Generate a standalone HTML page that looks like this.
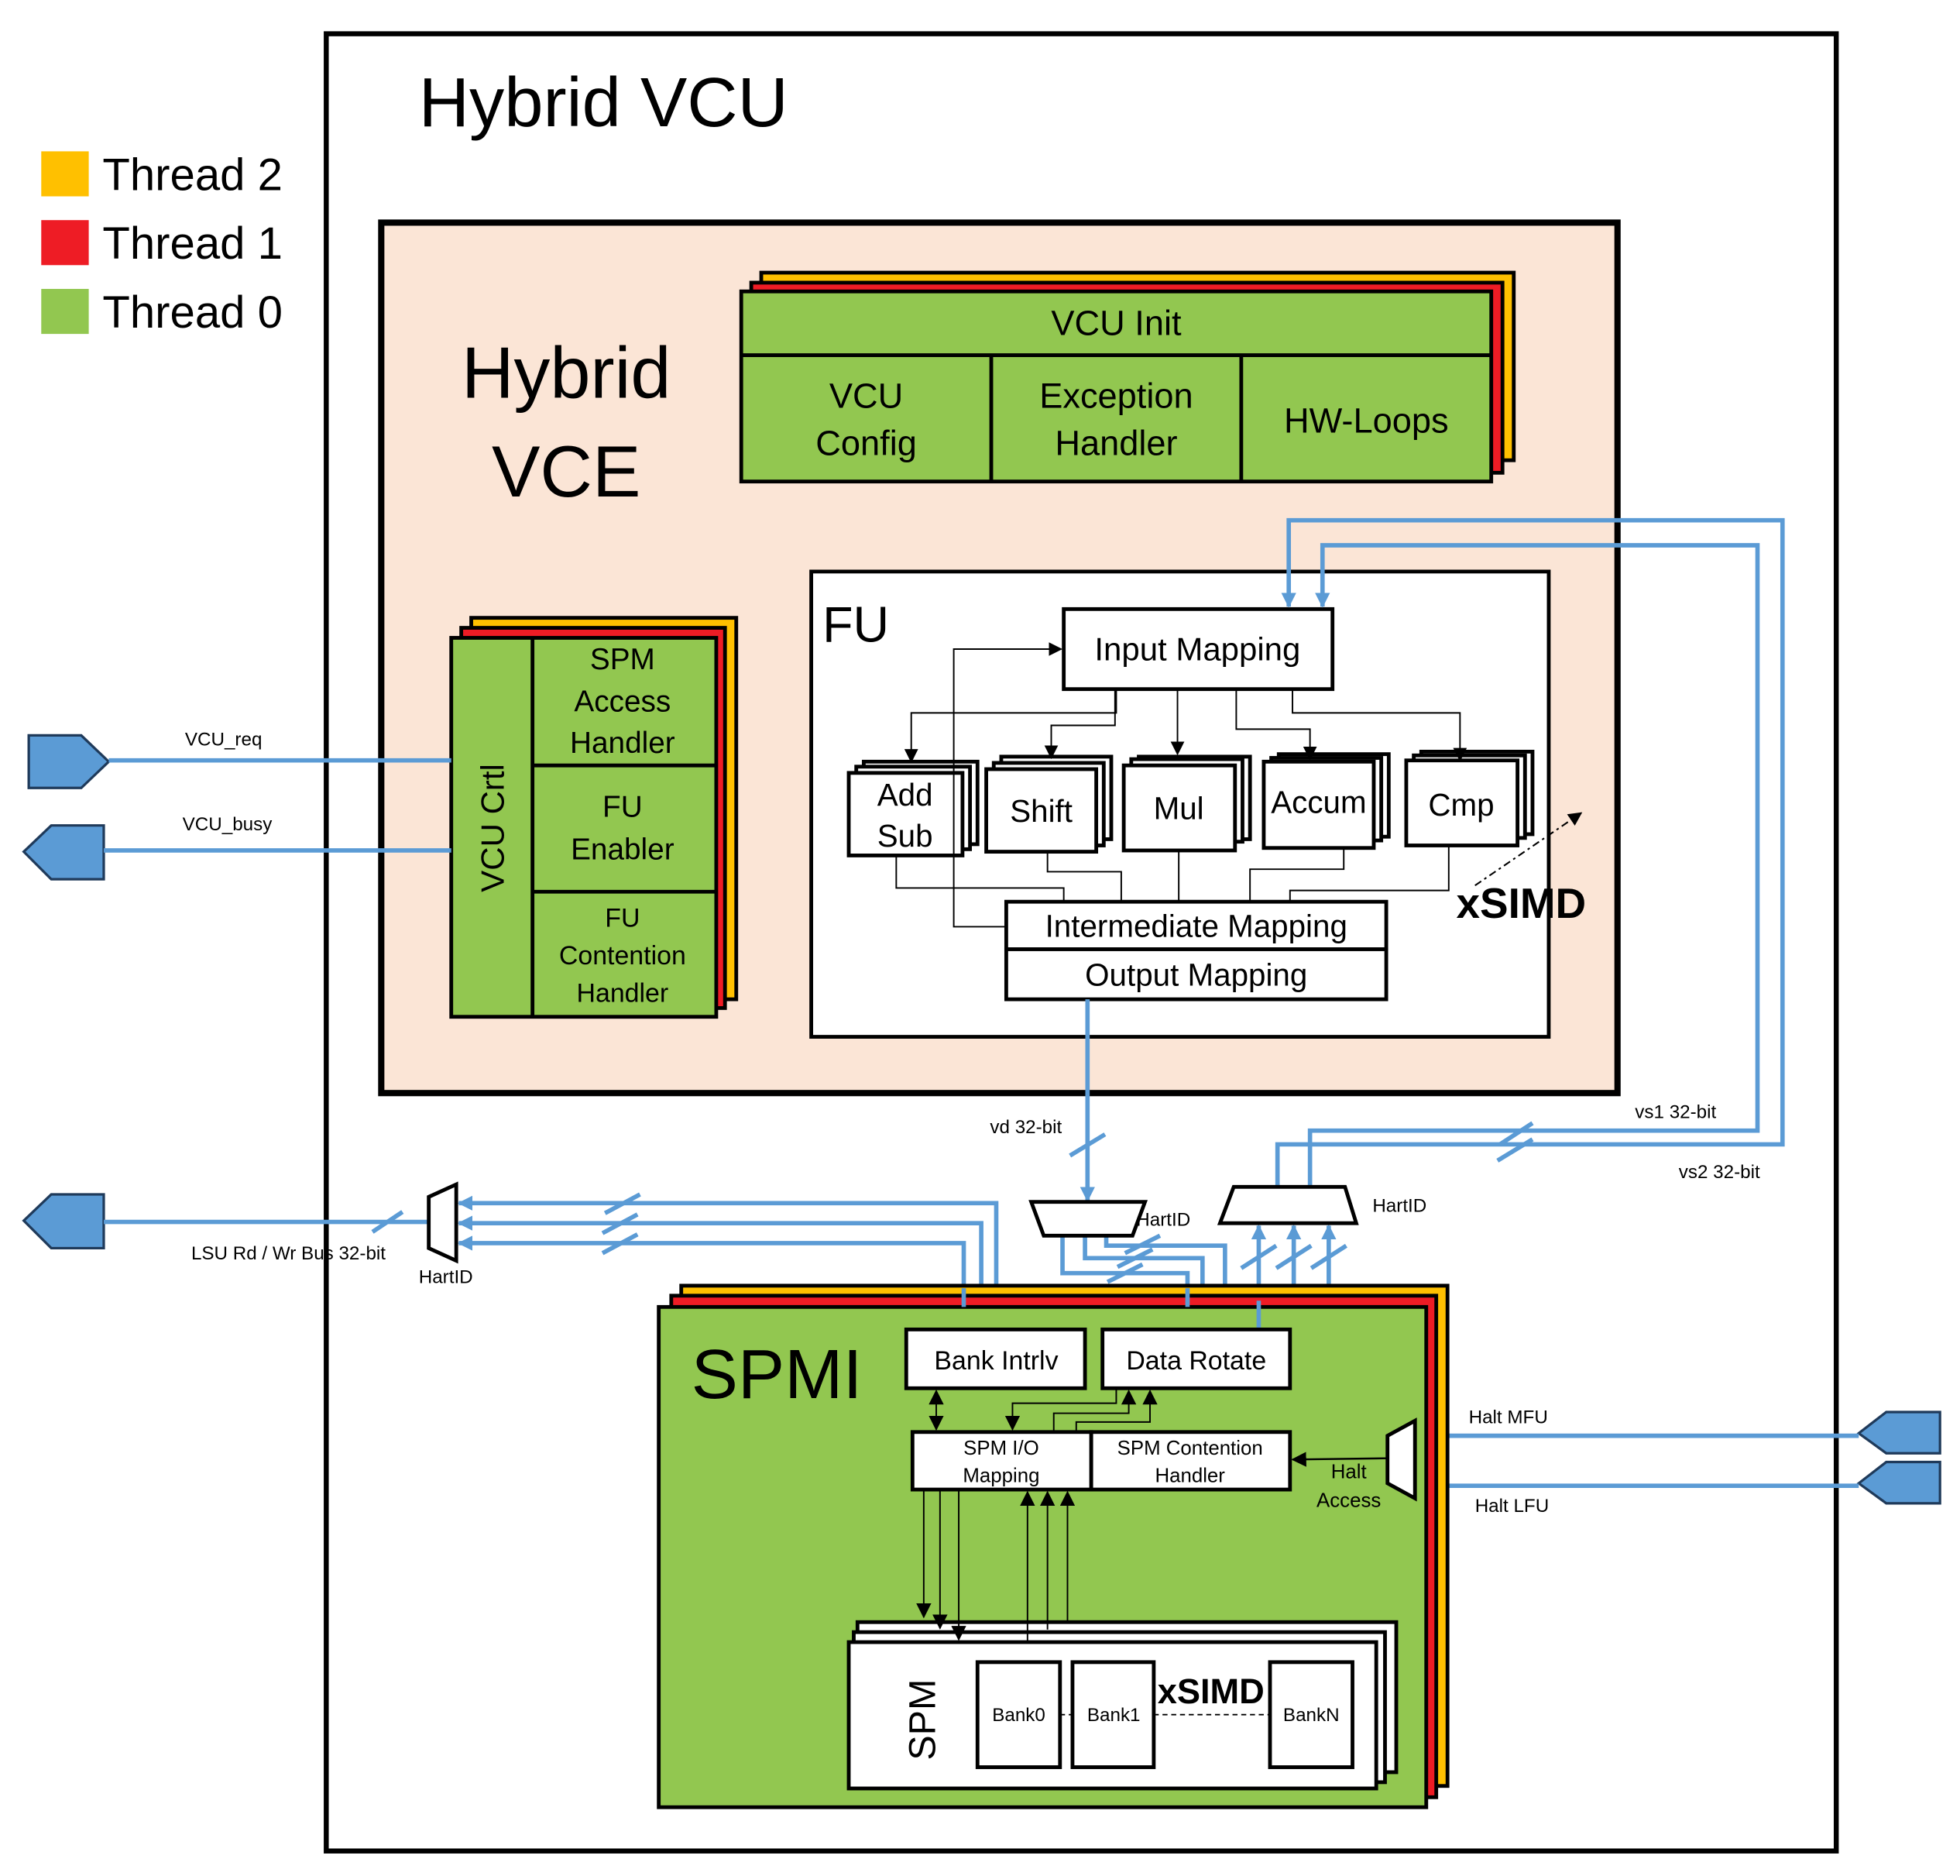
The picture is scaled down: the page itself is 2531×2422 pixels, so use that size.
<!DOCTYPE html>
<html><head><meta charset="utf-8"><style>html,body{margin:0;padding:0;background:#fff}svg{display:block}</style></head><body>
<svg width="2531" height="2422" viewBox="0 0 1568 1500" preserveAspectRatio="none" xmlns="http://www.w3.org/2000/svg" font-family="Liberation Sans, sans-serif">
<defs>
<marker id="a" markerWidth="11" markerHeight="11" refX="10" refY="5.5" orient="auto" markerUnits="userSpaceOnUse"><path d="M0,0 L11,5.5 L0,11 z" fill="#000"/></marker>
<marker id="ab" markerWidth="12" markerHeight="12" refX="11" refY="6" orient="auto" markerUnits="userSpaceOnUse"><path d="M0,0 L12,6 L0,12 z" fill="#5B9BD5"/></marker>
<marker id="ak" markerWidth="12" markerHeight="12" refX="11" refY="6" orient="auto" markerUnits="userSpaceOnUse"><path d="M0,0 L12,6 L0,12 z" fill="#000"/></marker>
<marker id="aks" markerWidth="12" markerHeight="12" refX="1" refY="6" orient="auto" markerUnits="userSpaceOnUse"><path d="M12,0 L0,6 L12,12 z" fill="#000"/></marker>
</defs>
<rect x="261" y="27" width="1208" height="1453" fill="#fff" stroke="#000" stroke-width="4"/>
<text x="335" y="101" font-size="56">Hybrid VCU</text>
<rect x="33" y="121" width="38" height="36" fill="#FFC000"/>
<rect x="33" y="176" width="38" height="36" fill="#EE1C25"/>
<rect x="33" y="231" width="38" height="36" fill="#92C750"/>
<g font-size="36"><text x="82" y="152">Thread 2</text><text x="82" y="207">Thread 1</text><text x="82" y="262">Thread 0</text></g>
<rect x="305" y="178" width="989" height="696" fill="#FBE5D6" stroke="#000" stroke-width="5"/>
<g font-size="58" text-anchor="middle"><text x="453" y="318">Hybrid</text><text x="453" y="397">VCE</text></g>
<rect x="609" y="218" width="602" height="150" fill="#FFC000" stroke="#000" stroke-width="3"/>
<rect x="601" y="226" width="601" height="152" fill="#EE1C25" stroke="#000" stroke-width="3"/>
<rect x="593" y="233" width="600" height="152" fill="#92C750" stroke="#000" stroke-width="3"/>
<line x1="593" y1="284" x2="1193" y2="284" stroke="#000" stroke-width="3"/>
<line x1="793" y1="284" x2="793" y2="385" stroke="#000" stroke-width="3"/>
<line x1="993" y1="284" x2="993" y2="385" stroke="#000" stroke-width="3"/>
<g font-size="28" text-anchor="middle"><text x="893" y="268">VCU Init</text><text x="693" y="326">VCU</text><text x="693" y="364">Config</text><text x="893" y="326">Exception</text><text x="893" y="364">Handler</text><text x="1093" y="346">HW-Loops</text></g>
<rect x="649" y="457" width="590" height="372" fill="#fff" stroke="#000" stroke-width="3"/>
<text x="658" y="513" font-size="40">FU</text>
<rect x="851" y="487" width="215" height="64" fill="#fff" stroke="#000" stroke-width="3"/>
<text x="958" y="528" font-size="26" text-anchor="middle">Input Mapping</text>
<g fill="#fff" stroke="#000" stroke-width="3">
<rect x="691" y="609" width="91" height="66"/><rect x="685" y="613" width="91" height="66"/><rect x="679" y="618" width="91" height="66"/>
<rect x="801" y="605" width="88" height="66"/><rect x="795" y="610" width="88" height="66"/><rect x="789" y="615" width="88" height="66"/>
<rect x="911" y="605" width="89" height="66"/><rect x="905" y="607" width="89" height="66"/><rect x="899" y="612" width="89" height="68"/>
<rect x="1023" y="603" width="88" height="66"/><rect x="1017" y="606" width="88" height="66"/><rect x="1011" y="609" width="88" height="69"/>
<rect x="1137" y="601" width="89" height="66"/><rect x="1131" y="604" width="89" height="66"/><rect x="1125" y="608" width="89" height="68"/>
</g>
<g font-size="25" text-anchor="middle"><text x="724" y="644">Add</text><text x="724" y="677">Sub</text><text x="833" y="657">Shift</text><text x="943" y="655">Mul</text><text x="1055" y="650">Accum</text><text x="1169" y="652">Cmp</text></g>
<rect x="805" y="721" width="304" height="38" fill="#fff" stroke="#000" stroke-width="3"/>
<rect x="805" y="759" width="304" height="40" fill="#fff" stroke="#000" stroke-width="3"/>
<g font-size="25" text-anchor="middle"><text x="957" y="749">Intermediate Mapping</text><text x="957" y="788">Output Mapping</text></g>
<text x="1165" y="734" font-size="34" font-weight="bold">xSIMD</text>
<line x1="1180" y1="708" x2="1265" y2="650" stroke="#000" stroke-width="1.3" stroke-dasharray="6,3,2,3" marker-end="url(#a)"/>
<g fill="none" stroke="#000" stroke-width="1.2">
<path d="M893,551 V570 H729 V609" marker-end="url(#a)"/>
<path d="M892,551 V580 H841 V606" marker-end="url(#a)"/>
<path d="M942,551 V603" marker-end="url(#a)"/>
<path d="M989,551 V583 H1048 V607" marker-end="url(#a)"/>
<path d="M1034,551 V570 H1168 V608" marker-end="url(#a)"/>
<path d="M805,741 H763 V519 H849" marker-end="url(#a)"/>
<path d="M717,684 V710 H851 V721"/>
<path d="M838,681 V697 H897 V721"/>
<path d="M943,680 V721"/>
<path d="M1075,678 V695 H1000 V721"/>
<path d="M1159,676 V712 H1032 V721"/>
</g>
<rect x="377" y="494" width="212" height="305" fill="#FFC000" stroke="#000" stroke-width="3"/>
<rect x="369" y="502" width="211" height="304" fill="#EE1C25" stroke="#000" stroke-width="3"/>
<rect x="361" y="510" width="212" height="303" fill="#92C750" stroke="#000" stroke-width="3"/>
<line x1="426" y1="510" x2="426" y2="813" stroke="#000" stroke-width="3"/>
<line x1="426" y1="612" x2="573" y2="612" stroke="#000" stroke-width="3"/>
<line x1="426" y1="713" x2="573" y2="713" stroke="#000" stroke-width="3"/>
<text transform="translate(403,662) rotate(-90)" font-size="26" text-anchor="middle">VCU Crtl</text>
<g font-size="24" text-anchor="middle"><text x="498" y="535">SPM</text><text x="498" y="569">Access</text><text x="498" y="602">Handler</text><text x="498" y="653">FU</text><text x="498" y="687">Enabler</text><text x="498" y="741" font-size="21">FU</text><text x="498" y="771" font-size="21">Contention</text><text x="498" y="801" font-size="21">Handler</text></g>
<g fill="#5B9BD5" stroke="#1F3A5A" stroke-width="2">
<path d="M23,588 H65 L87,609 L65,630 H23 Z"/>
<path d="M19,681 L41,660 H83 V703 H41 Z"/>
<path d="M19,976 L41,955 H83 V998 H41 Z"/>
<path d="M1487,1146 L1509,1129 H1552 V1162 H1509 Z"/>
<path d="M1487,1186 L1509,1169 H1552 V1202 H1509 Z"/>
</g>
<g stroke="#5B9BD5" stroke-width="3.5" fill="none">
<path d="M87,608 H361"/><path d="M83,680 H361"/><path d="M83,977 H343"/>
<path d="M1132,1148 H1487"/><path d="M1132,1188 H1487"/>
<path d="M797,1030 V962 H367" marker-end="url(#ab)"/>
<path d="M785,1038 V978 H367" marker-end="url(#ab)"/>
<path d="M771,1045 V994 H367" marker-end="url(#ab)"/>
<path d="M870,799 V960" marker-end="url(#ab)"/>
<path d="M850,988 V1018 H950 V1062" marker-end="url(#ab)"/>
<path d="M868,988 V1006 H962 V1036"/>
<path d="M885,988 V996 H980 V1028"/>
<path d="M1007,1063 V980" marker-end="url(#ab)"/>
<path d="M1035,1036 V980" marker-end="url(#ab)"/>
<path d="M1063,1028 V980" marker-end="url(#ab)"/>
<path d="M1022,949 V915 H1426 V416 H1031 V485" marker-end="url(#ab)"/>
<path d="M1048,949 V904 H1406 V436 H1058 V485" marker-end="url(#ab)"/>
<path d="M298,985 L322,969"/><path d="M484,970 L512,955"/><path d="M482,986 L510,971"/><path d="M482,1002 L510,987"/>
<path d="M856,924 L884,907"/><path d="M1198,928 L1226,911"/><path d="M1200,915 L1226,898"/>
<path d="M900,1002 L928,988"/><path d="M894,1013 L922,999"/><path d="M886,1025 L914,1011"/>
<path d="M993,1014 L1021,996"/><path d="M1021,1014 L1049,996"/><path d="M1049,1014 L1077,996"/>
</g>
<g font-size="15"><text x="148" y="596">VCU_req</text><text x="146" y="664">VCU_busy</text><text x="153" y="1007">LSU Rd / Wr Bus 32-bit</text><text x="335" y="1026">HartID</text>
<text x="792" y="906">vd 32-bit</text><text x="909" y="980">HartID</text><text x="1098" y="969">HartID</text><text x="1308" y="894">vs1 32-bit</text><text x="1343" y="942">vs2 32-bit</text>
<text x="1175" y="1138">Halt MFU</text><text x="1180" y="1209">Halt LFU</text></g>
<g fill="#fff" stroke="#000" stroke-width="3">
<path d="M343,957 L365,947 V1008 L343,998 Z"/>
<path d="M825,961 H916 L906,988 H835 Z"/>
<path d="M987,949 H1076 L1085,978 H976 Z"/>
</g>
<rect x="545" y="1028" width="613" height="400" fill="#FFC000" stroke="#000" stroke-width="3"/>
<rect x="537" y="1036" width="612" height="401" fill="#EE1C25" stroke="#000" stroke-width="3"/>
<rect x="527" y="1045" width="614" height="400" fill="#92C750" stroke="#000" stroke-width="3"/>
<g stroke="#5B9BD5" stroke-width="3.5" fill="none"><path d="M771,1045 V1030"/><path d="M950,1045 V1030"/><path d="M1007,1063 V1040"/></g>
<text x="553" y="1118" font-size="56">SPMI</text>
<g fill="#fff" stroke="#000" stroke-width="3">
<rect x="725" y="1063" width="143" height="47"/><rect x="882" y="1063" width="150" height="47"/>
<rect x="730" y="1145" width="143" height="46"/><rect x="873" y="1145" width="159" height="46"/>
<path d="M1110,1148 L1132,1136 V1198 L1110,1186 Z"/>
</g>
<g text-anchor="middle"><text x="797" y="1095" font-size="21">Bank Intrlv</text><text x="957" y="1095" font-size="21">Data Rotate</text>
<g font-size="16"><text x="801" y="1163">SPM I/O</text><text x="801" y="1185">Mapping</text><text x="952" y="1163">SPM Contention</text><text x="952" y="1185">Handler</text><text x="1079" y="1182">Halt</text><text x="1079" y="1205">Access</text></g></g>
<g fill="none" stroke="#000" stroke-width="1.2">
<path d="M1110,1166 L1034,1167" marker-end="url(#ak)" stroke-width="1.5"/>
<path d="M749,1112 V1143" marker-end="url(#ak)" marker-start="url(#aks)"/>
<path d="M893,1110 V1122 H810 V1143" marker-end="url(#ak)"/>
<path d="M843,1145 V1130 H903 V1112" marker-end="url(#ak)"/>
<path d="M861,1145 V1137 H920 V1112" marker-end="url(#ak)"/>
</g>
<g fill="#fff" stroke="#000" stroke-width="3">
<rect x="686" y="1297" width="431" height="120"/><rect x="683" y="1305" width="425" height="120"/><rect x="679" y="1313" width="422" height="117"/>
<rect x="782" y="1329" width="66" height="84"/><rect x="858" y="1329" width="65" height="84"/><rect x="1016" y="1329" width="66" height="84"/>
</g>
<g fill="none" stroke="#000" stroke-width="1.2">
<path d="M739,1191 V1293" marker-end="url(#ak)"/><path d="M752,1191 V1302" marker-end="url(#ak)"/><path d="M767,1191 V1311" marker-end="url(#ak)"/>
<path d="M822,1313 V1193" marker-end="url(#ak)"/><path d="M838,1303 V1193" marker-end="url(#ak)"/><path d="M854,1297 V1193" marker-end="url(#ak)"/>
<path d="M848,1371 H858 M923,1371 H1016" stroke-dasharray="4,3"/>
</g>
<text transform="translate(748,1375) rotate(-90)" font-size="30" text-anchor="middle">SPM</text>
<g font-size="15" text-anchor="middle"><text x="815" y="1376">Bank0</text><text x="891" y="1376">Bank1</text><text x="1049" y="1376">BankN</text></g>
<text x="926" y="1362" font-size="28" font-weight="bold">xSIMD</text>
</svg>
</body></html>
